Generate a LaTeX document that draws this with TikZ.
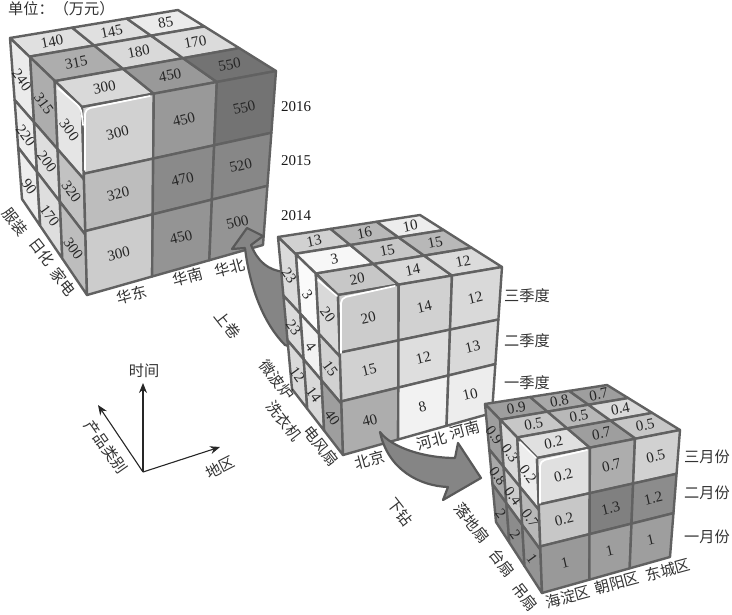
\documentclass[tikz,border=0pt]{standalone}
\usepackage{fontspec}
\setmainfont{Liberation Serif}
\newfontfamily\cjk{Noto Sans CJK SC}
\usepackage{xcolor}
\usepackage{tikz}
\usetikzlibrary{arrows.meta, calc}
\tikzstyle{num} = [font=\fontsize{15}{15}\selectfont, text=black!85, inner sep=0pt]
\tikzstyle{lbl} = [font=\cjk\fontsize{15.2}{16}\selectfont, text=black!80, inner sep=0pt]
\tikzstyle{yearlbl} = [font=\fontsize{15}{15}\selectfont, text=black!90, inner sep=0pt]
\tikzstyle{cellbox} = [draw=black!62, line width=2.4pt, line join=round]
\tikzstyle{blockarrow} = [draw=black!65, line width=2.2pt, fill=black!48, line join=round]
\tikzstyle{glint} = [draw=white, line width=1.7pt, rounded corners=5pt, line cap=round]
\tikzstyle{arrow} = [line width=1.1pt, black!85, -{Stealth[length=10pt,width=8pt]}]
% one face: corners tl,tr,br,bl, name, x splits, y splits, text angle, cells
\newcommand{\cubeface}[9]{
  \foreach \col/\row/\lev/\txt in {#9} {
    \pgfmathtruncatemacro{\colb}{\col+1}
    \pgfmathtruncatemacro{\rowb}{\row+1}
    \pgfmathsetmacro{\xa}{{0,#6,1}[\col]}
    \pgfmathsetmacro{\xb}{{0,#6,1}[\colb]}
    \pgfmathsetmacro{\ya}{{0,#7,1}[\row]}
    \pgfmathsetmacro{\yb}{{0,#7,1}[\rowb]}
    \coordinate (p) at ($($(#1)!\xa!(#2)$)!\ya!($(#4)!\xa!(#3)$)$);
    \coordinate (q) at ($($(#1)!\xb!(#2)$)!\ya!($(#4)!\xb!(#3)$)$);
    \coordinate (r) at ($($(#1)!\xb!(#2)$)!\yb!($(#4)!\xb!(#3)$)$);
    \coordinate (s) at ($($(#1)!\xa!(#2)$)!\yb!($(#4)!\xa!(#3)$)$);
    \draw [cellbox, fill=black!\lev] (p) -- (q) -- (r) -- (s) -- cycle;
    \node (#5-\col-\row) [num, rotate=#8] at ($(p)!.5!(r)$) {\txt};
  }
}
\begin{document}
\begin{tikzpicture}[x=1pt, y=-1pt]
\useasboundingbox (0,0) rectangle (732,615);

% first cube
\coordinate (aA) at (10,38);
\coordinate (aB) at (178,10);
\coordinate (aC) at (276,71);
\coordinate (aD) at (82,107);
\coordinate (aN) at (87,295);
\coordinate (aR) at (263,245);
\coordinate (aL) at (22,199);
\cubeface{aA}{aB}{aC}{aD}{atop}{.37,.695}{.27,.625}{11}{0/0/12/140,1/0/12/145,2/0/8/85,0/1/32/315,1/1/15/180,2/1/14/170,0/2/15/300,1/2/40/450,2/2/55/550}
\cubeface{aA}{aD}{aN}{aL}{aleft}{.28,.62}{.385,.68}{-54}{0/0/8/240,0/1/7/220,0/2/7/90,1/0/32/315,1/1/13/200,1/2/13/170,2/0/10/300,2/1/24/320,2/2/26/300}
\cubeface{aD}{aC}{aR}{aN}{afront}{.37,.695}{.355,.66}{13}{0/0/18/300,1/0/40/450,2/0/55/550,0/1/26/320,1/1/46/470,2/1/47/520,0/2/20/300,1/2/42/450,2/2/42/500}
\draw [glint] (85,170) -- (85,109) -- (150,96);
\draw [glint] (58,88) -- (81,108) -- (83,125);

% roll up arrow
\path [blockarrow] (247,228) -- (263,236) -- (251,245) .. controls (258,262) and (268,270) .. (284,272) -- (300,350) -- (285,345) .. controls (265,325) and (250,290) .. (245,248) -- (232,249) -- cycle;

% second cube
\coordinate (bA) at (278,237);
\coordinate (bB) at (420,215);
\coordinate (bC) at (502,267);
\coordinate (bD) at (338,295);
\coordinate (bN) at (343,455);
\coordinate (bR) at (492,413);
\coordinate (bL) at (292,389);
\cubeface{bA}{bB}{bC}{bD}{btop}{.37,.695}{.29,.63}{11}{0/0/18/13,1/0/28/16,2/0/7/10,0/1/3/3,1/1/22/15,2/1/28/15,0/2/22/20,1/2/15/14,2/2/14/12}
\cubeface{bA}{bD}{bN}{bL}{bleft}{.3,.63}{.385,.68}{-54}{0/0/14/23,0/1/14/23,0/2/15/12,1/0/2/3,1/1/5/4,1/2/15/14,2/0/15/20,2/1/18/15,2/2/38/40}
\cubeface{bD}{bC}{bR}{bN}{bfront}{.37,.695}{.36,.665}{13}{0/0/20/20,1/0/18/14,2/0/15/12,0/1/18/15,1/1/13/12,2/1/15/13,0/2/32/40,1/2/5/8,2/2/7/10}
\draw [glint] (341,353) -- (341,298) -- (395,286);
\draw [glint] (318,280) -- (337,296);

% drill down arrow
\path [blockarrow] (380,432) .. controls (392,448) and (425,458) .. (455,458) -- (458,443) -- (481,478) -- (443,500) -- (448,487) .. controls (420,486) and (388,470) .. cycle;

% third cube
\coordinate (cA) at (485,404);
\coordinate (cB) at (607,385);
\coordinate (cC) at (680,430);
\coordinate (cD) at (537,458);
\coordinate (cN) at (542,593);
\coordinate (cR) at (670,557);
\coordinate (cL) at (496,522);
\cubeface{cA}{cB}{cC}{cD}{ctop}{.37,.69}{.29,.62}{11}{0/0/38/0.9,1/0/34/0.8,2/0/38/0.7,0/1/22/0.5,1/1/28/0.5,2/1/15/0.4,0/2/12/0.2,1/2/38/0.7,2/2/22/0.5}
\cubeface{cA}{cD}{cN}{cL}{cleft}{.29,.62}{.385,.68}{-54}{0/0/38/0.9,0/1/34/0.8,0/2/45/2,1/0/15/0.3,1/1/20/0.4,1/2/45/2,2/0/7/0.2,2/1/28/0.7,2/2/42/1}
\cubeface{cD}{cC}{cR}{cN}{cfront}{.37,.685}{.345,.655}{13}{0/0/12/0.2,1/0/32/0.7,2/0/18/0.5,0/1/22/0.2,1/1/50/1.3,2/1/45/1.2,0/2/40/1,1/2/38/1,2/2/38/1}
\draw [glint] (540,503) -- (540,461) -- (587,450);
\draw [glint] (520,442) -- (536,458);

% axes
\coordinate (origin) at (143,472);
\coordinate (timetip) at (143,383);
\coordinate (kindtip) at (98,405);
\coordinate (areatip) at (220,447);
\draw [arrow] (origin) -- (timetip);
\draw [arrow] (origin) -- (kindtip);
\draw [arrow] (origin) -- (areatip);
\node (timelbl) [lbl] at (144,371) {时间};
\node (kindlbl) [lbl, rotate=-55] at (106,447) {产品类别};
\node (arealbl) [lbl, rotate=27] at (220,467) {地区};

% labels
\node (unitlbl) [lbl, anchor=west] at (8,9) {单位：（万元）};
\node (y2016) [yearlbl] at (296,107) {2016};
\node (y2015) [yearlbl] at (296,161) {2015};
\node (y2014) [yearlbl] at (296,216) {2014};
\node (cloth) [lbl, rotate=-52] at (15,222) {服装};
\node (daily) [lbl, rotate=-52] at (42,252) {日化};
\node (appl) [lbl, rotate=-52] at (63,282) {家电};
\node (east) [lbl, rotate=15] at (132,295) {华东};
\node (south) [lbl, rotate=15] at (188,277) {华南};
\node (north) [lbl, rotate=15] at (230,268) {华北};
\node (rollup) [lbl, rotate=-52] at (228,325) {上卷};
\node (q3) [lbl] at (527,296) {三季度};
\node (q2) [lbl] at (527,341) {二季度};
\node (q1) [lbl] at (527,383) {一季度};
\node (micro) [lbl, rotate=-52] at (277,380) {微波炉};
\node (washer) [lbl, rotate=-52] at (284,421) {洗衣机};
\node (fan) [lbl, rotate=-52] at (321,446) {电风扇};
\node (beijing) [lbl, rotate=15] at (370,460) {北京};
\node (hebei) [lbl, rotate=15] at (432,441) {河北};
\node (henan) [lbl, rotate=15] at (465,430) {河南};
\node (drill) [lbl, rotate=-52] at (400,512) {下钻};
\node (mar) [lbl] at (707,457) {三月份};
\node (feb) [lbl] at (707,493) {二月份};
\node (jan) [lbl] at (707,537) {一月份};
\node (floorfan) [lbl, rotate=-52] at (472,523) {落地扇};
\node (deskfan) [lbl, rotate=-52] at (502,563) {台扇};
\node (ceilfan) [lbl, rotate=-52] at (525,597) {吊扇};
\node (haidian) [lbl, rotate=15] at (568,597) {海淀区};
\node (chaoyang) [lbl, rotate=15] at (617,583) {朝阳区};
\node (dongcheng) [lbl, rotate=15] at (668,570) {东城区};

\end{tikzpicture}
\end{document}
